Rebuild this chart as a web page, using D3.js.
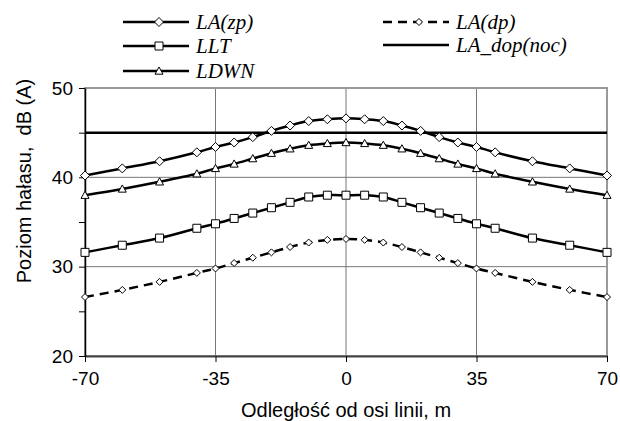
<!DOCTYPE html>
<html>
<head>
<meta charset="utf-8">
<script src="https://cdn.jsdelivr.net/npm/d3@7"></script>
<style>
  body { margin: 0; background: #fff; }
  .axis text { font-family: Arial, "Liberation Sans", sans-serif; font-size: 19px; fill: #000; }
  .legendText { font-family: "Liberation Serif", "Times New Roman", serif; font-style: italic; font-size: 21px; }
  .title { font-family: Arial, "Liberation Sans", sans-serif; font-size: 20px; white-space: pre; }
</style>
</head>
<body>
<div id="chart"></div>
<script>
var svgWidth = 620;
var svgHeight = 421;
var margin = { top: 88, right: 13, bottom: 65, left: 85 };
var width = svgWidth - margin.left - margin.right;
var height = svgHeight - margin.top - margin.bottom;

// distances from the track axis, m
var distances = [-70, -60, -50, -40, -35, -30, -25, -20, -15, -10, -5, 0, 5, 10, 15, 20, 25, 30, 35, 40, 50, 60, 70];

// noise levels, dB(A)
var laZp = [40.2, 41.0, 41.8, 42.8, 43.4, 43.9, 44.5, 45.2, 45.8, 46.3, 46.5, 46.6, 46.5, 46.3, 45.8, 45.2, 44.5, 43.9, 43.4, 42.8, 41.8, 41.0, 40.2];
var laDp = [26.6, 27.4, 28.3, 29.3, 29.8, 30.4, 31.0, 31.6, 32.2, 32.7, 33.0, 33.1, 33.0, 32.7, 32.2, 31.6, 31.0, 30.4, 29.8, 29.3, 28.3, 27.4, 26.6];
var llt = [31.6, 32.4, 33.2, 34.3, 34.8, 35.4, 36.0, 36.6, 37.2, 37.8, 38.0, 38.0, 38.0, 37.8, 37.2, 36.6, 36.0, 35.4, 34.8, 34.3, 33.2, 32.4, 31.6];
var ldwn = [38.0, 38.7, 39.5, 40.4, 41.0, 41.5, 42.1, 42.7, 43.2, 43.6, 43.8, 43.9, 43.8, 43.6, 43.2, 42.7, 42.1, 41.5, 41.0, 40.4, 39.5, 38.7, 38.0];
var laDopNoc = 45;

var xTicks = [-70, -35, 0, 35, 70];
var yTicks = [20, 30, 40, 50];
var yMinorTicks = [20, 25, 30, 35, 40, 45, 50];

var svg = d3.select("#chart")
  .append("svg")
  .attr("width", svgWidth)
  .attr("height", svgHeight);
var chartGroup = svg.append("g")
  .attr("transform", `translate(${margin.left}, ${margin.top})`);

var xScale = d3.scaleLinear().domain([-70, 70]).range([0, width]);
var yScale = d3.scaleLinear().domain([20, 50]).range([height, 0]);

// gridlines
chartGroup.selectAll(".vgrid").data([-35, 0, 35]).enter().append("line")
  .attr("x1", d => xScale(d)).attr("x2", d => xScale(d))
  .attr("y1", 0).attr("y2", height)
  .attr("stroke", "#777").attr("stroke-width", 1);
chartGroup.selectAll(".hgrid").data([30, 40]).enter().append("line")
  .attr("x1", 0).attr("x2", width)
  .attr("y1", d => yScale(d)).attr("y2", d => yScale(d))
  .attr("stroke", "#777").attr("stroke-width", 1);

// plot border
chartGroup.append("rect")
  .attr("width", width).attr("height", height)
  .attr("fill", "none").attr("stroke", "#999").attr("stroke-width", 2);

// axes
var bottomAxis = d3.axisBottom(xScale).tickValues(xTicks).tickSize(6).tickSizeOuter(0)
  .tickFormat(d => String(d));
var leftAxis = d3.axisLeft(yScale).tickValues(yMinorTicks).tickSize(6).tickSizeOuter(0)
  .tickFormat(d => yTicks.indexOf(d) >= 0 ? d : "");

var xAxisG = chartGroup.append("g").attr("class", "axis")
  .attr("transform", `translate(0, ${height})`)
  .call(bottomAxis);
xAxisG.select(".domain").attr("stroke", "#444").attr("stroke-width", 2);
xAxisG.selectAll("text").attr("y", 12).attr("dy", "0.9em");

var yAxisG = chartGroup.append("g").attr("class", "axis").call(leftAxis);
yAxisG.select(".domain").attr("stroke", "#000").attr("stroke-width", 1.5);
yAxisG.selectAll("text").attr("x", -12);

// series
var line = d3.line()
  .x((d, i) => xScale(distances[i]))
  .y(d => yScale(d))
  .curve(d3.curveCatmullRom.alpha(0.5));

var series = [
  { name: "LA(zp)", values: laZp, marker: "diamond", size: 9, dash: null },
  { name: "LA(dp)", values: laDp, marker: "diamond", size: 7, dash: "9,6" },
  { name: "LLT", values: llt, marker: "square", size: 8, dash: null },
  { name: "LDWN", values: ldwn, marker: "triangle", size: 8, dash: null }
];

function markerPath(type, s) {
  var h = s / 2;
  if (type === "diamond") return `M0,${-h}L${h},0L0,${h}L${-h},0Z`;
  if (type === "square") return `M${-h},${-h}H${h}V${h}H${-h}Z`;
  return `M0,${-h}L${h},${h * 0.8}L${-h},${h * 0.8}Z`;
}

// limit line
chartGroup.append("line")
  .attr("x1", 0).attr("x2", width)
  .attr("y1", yScale(laDopNoc)).attr("y2", yScale(laDopNoc))
  .attr("stroke", "#000").attr("stroke-width", 2.5);

series.forEach(function(s) {
  chartGroup.append("path")
    .datum(s.values)
    .attr("d", line)
    .attr("fill", "none")
    .attr("stroke", "#000")
    .attr("stroke-width", 2.5)
    .attr("stroke-dasharray", s.dash);
  chartGroup.selectAll(null).data(s.values).enter().append("path")
    .attr("d", markerPath(s.marker, s.size))
    .attr("transform", (d, i) => `translate(${xScale(distances[i])}, ${yScale(d)})`)
    .attr("fill", "#fff")
    .attr("stroke", "#000")
    .attr("stroke-width", 1);
});

// legend
var legendItems = [
  { name: "LA(zp)", x: 123, y: 22, marker: "diamond", size: 9, dash: null },
  { name: "LLT", x: 123, y: 46, marker: "square", size: 8, dash: null },
  { name: "LDWN", x: 123, y: 71, marker: "triangle", size: 8, dash: null },
  { name: "LA(dp)", x: 383, y: 22, marker: "diamond", size: 7, dash: "9,6" },
  { name: "LA_dop(noc)", x: 383, y: 45, marker: null, size: 0, dash: null }
];
var legend = svg.selectAll(".legend").data(legendItems).enter().append("g")
  .attr("transform", d => `translate(${d.x}, ${d.y})`);
legend.append("line")
  .attr("x1", 0).attr("x2", 66)
  .attr("stroke", "#000").attr("stroke-width", 2.5)
  .attr("stroke-dasharray", d => d.dash);
legend.filter(d => d.marker).append("path")
  .attr("d", d => markerPath(d.marker, d.size))
  .attr("transform", "translate(36, 0)")
  .attr("fill", "#fff").attr("stroke", "#000").attr("stroke-width", 1);
legend.append("text")
  .attr("class", "legendText")
  .attr("x", 73)
  .attr("dy", "0.33em")
  .text(d => d.name);

// axis titles
svg.append("text")
  .attr("class", "title")
  .attr("transform", `translate(31, ${margin.top + height / 2 - 41}) rotate(-90)`)
  .attr("text-anchor", "middle")
  .text("Poziom hałasu,  dB (A)");
svg.append("text")
  .attr("class", "title")
  .attr("x", margin.left + width / 2)
  .attr("y", 417)
  .attr("text-anchor", "middle")
  .text("Odległość od osi linii, m");
</script>
</body>
</html>
